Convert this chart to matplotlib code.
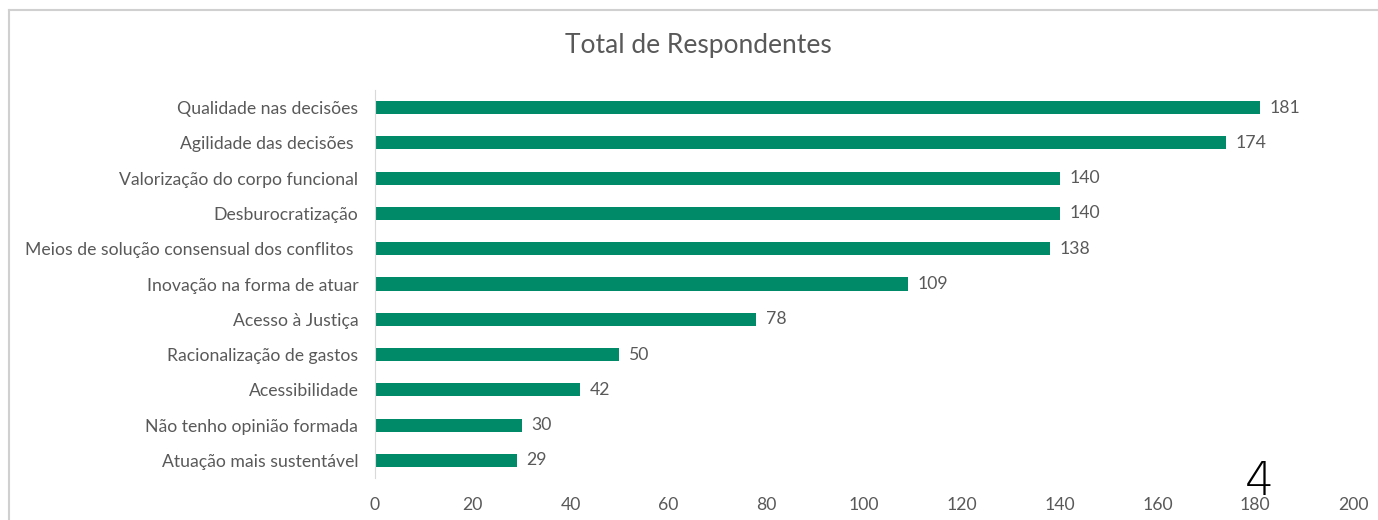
import matplotlib
matplotlib.use("Agg")
import matplotlib.pyplot as plt
from matplotlib.lines import Line2D

# data (top to bottom as in the chart)
categories = [
    "Qualidade nas decisões",
    "Agilidade das decisões ",
    "Valorização do corpo funcional",
    "Desburocratização",
    "Meios de solução consensual dos conflitos ",
    "Inovação na forma de atuar",
    "Acesso à Justiça",
    "Racionalização de gastos",
    "Acessibilidade",
    "Não tenho opinião formada",
    "Atuação mais sustentável",
]
values = [181, 174, 140, 140, 138, 109, 78, 50, 42, 30, 29]
xticks = [0, 20, 40, 60, 80, 100, 120, 140, 160, 180, 200]

bar_color = "#008A68"
text_color = "#595959"

plt.rcParams['font.family'] = ['Lato', 'DejaVu Sans']

fig = plt.figure(figsize=(13.78, 5.2), dpi=100)
ax = fig.add_axes([375 / 1378, 1 - 478 / 520, (1353 - 375) / 1378, (478 - 90) / 520])

ypos = list(range(len(categories)))
ax.barh(ypos, values, height=0.37, color=bar_color)
ax.set_ylim(len(categories) - 0.5, -0.5)
ax.set_xlim(0, 200)
ax.set_yticks(ypos)
ax.set_yticklabels(categories, fontsize=12.7, color=text_color)
ax.set_xticks(xticks)
ax.set_xticklabels([str(t) for t in xticks], fontsize=12.7, color=text_color)
ax.tick_params(axis='both', length=0)
ax.tick_params(axis='y', pad=12)
ax.tick_params(axis='x', pad=14)

for s in ['top', 'right', 'bottom']:
    ax.spines[s].set_visible(False)
ax.spines['left'].set_color("#D9D9D9")

for y, v in zip(ypos, values):
    ax.text(v + 2.0, y, str(v), va='center', ha='left', fontsize=12.7, color=text_color)

fig.text(0.507, 1 - 46 / 520, "Total de Respondentes", ha='center', va='center',
         fontsize=19, color=text_color)

# outer chart frame (top and left only visible)
fig.add_artist(Line2D([9 / 1378, 1], [1 - 10 / 520, 1 - 10 / 520], color="#D0D0D0", lw=1.5))
fig.add_artist(Line2D([9 / 1378, 9 / 1378], [0, 1 - 10 / 520], color="#D0D0D0", lw=1.5))

# page number overlay
fig.text(1259 / 1378, 1 - 482 / 520, "4", ha='center', va='center',
         fontsize=33, color="black", family=['DejaVu Sans'], fontweight='light')

fig.savefig("out.png", dpi=100)
